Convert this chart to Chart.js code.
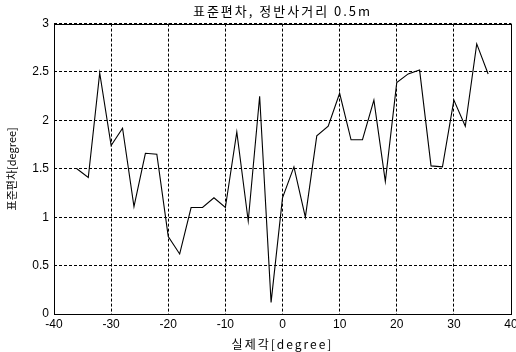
<!DOCTYPE html>
<html>
<head>
<meta charset="utf-8">
<script src="https://cdn.jsdelivr.net/npm/chart.js@4/dist/chart.umd.min.js"></script>
<style>
  html, body { margin: 0; padding: 0; background: #fff; }
  #wrap { width: 516px; height: 352px; }
</style>
</head>
<body>
<div id="wrap"><canvas id="stdChart" width="516" height="352"></canvas></div>
<script>
// 실제각 (degree)
const angles = [-36, -34, -32, -30, -28, -26, -24, -22, -20, -18, -16, -14, -12, -10, -8, -6, -4, -2,
                0, 2, 4, 6, 8, 10, 12, 14, 16, 18, 20, 22, 24, 26, 28, 30, 32, 34, 36];
// 표준편차 (degree)
const stdDev = [1.50, 1.41, 2.49, 1.74, 1.92, 1.11, 1.66, 1.65, 0.80, 0.62, 1.10, 1.10, 1.20, 1.10, 1.88, 0.96, 2.25, 0.12,
                1.20, 1.52, 1.00, 1.84, 1.94, 2.28, 1.80, 1.80, 2.21, 1.37, 2.39, 2.48, 2.52, 1.53, 1.52, 2.21, 1.94, 2.79, 2.48];

const titleText = '표준편차, 정반사거리 0.5m';
const xTitle = '실제각[degree]';
const yTitle = '표준편차[degree]';

const fontFamily = '"Liberation Sans", Arial, "Noto Sans CJK KR", sans-serif';
const krFont = '"Noto Sans CJK KR", "Liberation Sans", sans-serif';

// 제목/축 제목의 자간을 넓힘 (원본 스캔처럼)
function spaced(obj, method, spacing) {
    if (!obj || obj['_spaced_' + method]) return;
    const orig = obj[method];
    obj[method] = function () {
        const c = this.ctx;
        const prev = c.letterSpacing;
        c.letterSpacing = spacing;
        const r = orig.apply(this, arguments);
        c.letterSpacing = prev || '0px';
        return r;
    };
    obj['_spaced_' + method] = true;
}

// 차트 영역 테두리
const frameBox = {
    id: 'frameBox',
    beforeDraw(chart) {
        spaced(chart.titleBlock, 'draw', '2px');
        spaced(chart.scales.x, 'drawTitle', '2px');
    },
    afterDraw(chart) {
        const a = chart.chartArea;
        const c = chart.ctx;
        c.save();
        c.strokeStyle = '#000';
        c.lineWidth = 1;
        c.strokeRect(Math.round(a.left) + 0.5, Math.round(a.top) + 0.5,
                     Math.round(a.right - a.left), Math.round(a.bottom - a.top));
        c.restore();
    }
};

const ctx = document.getElementById('stdChart').getContext('2d');
const chart = new Chart(ctx, {
    type: 'scatter',
    data: {
        datasets: [{
            data: angles.map((a, i) => ({ x: a, y: stdDev[i] })),
            showLine: true,
            borderColor: '#000',
            borderWidth: 1.1,
            pointRadius: 0,
            tension: 0,
            fill: false
        }]
    },
    options: {
        responsive: false,
        animation: false,
        layout: { padding: { left: 0, right: 5, top: 0, bottom: 0 } },
        plugins: {
            legend: { display: false },
            tooltip: { enabled: false },
            title: {
                display: true,
                fullSize: false,
                text: titleText,
                color: '#000',
                font: { family: krFont, size: 13, weight: 'normal' },
                padding: { top: 3, bottom: 5 }
            }
        },
        scales: {
            x: {
                type: 'linear',
                min: -40,
                max: 40,
                ticks: {
                    stepSize: 10,
                    color: '#000',
                    padding: 3,
                    maxRotation: 0,
                    font: { family: fontFamily, size: 12 }
                },
                grid: {
                    color: '#000',
                    lineWidth: 1,
                    drawTicks: false
                },
                border: { display: false, dash: [3, 2] },
                title: {
                    display: true,
                    text: xTitle,
                    color: '#000',
                    font: { family: krFont, size: 12 },
                    padding: { top: 1, bottom: 0 }
                },
                afterFit(scale) {
                    scale.height = 38;
                    scale.paddingLeft = 0;
                    scale.paddingRight = 0;
                }
            },
            y: {
                min: 0,
                max: 3,
                ticks: {
                    stepSize: 0.5,
                    color: '#000',
                    padding: 5,
                    font: { family: fontFamily, size: 12 },
                    callback: v => String(v)
                },
                grid: {
                    color: '#000',
                    lineWidth: 1,
                    drawTicks: false
                },
                border: { display: false, dash: [3, 2] },
                title: {
                    display: true,
                    text: yTitle,
                    color: '#000',
                    font: { family: krFont, size: 11 },
                    padding: { top: 5, bottom: 0 }
                },
                afterFit(scale) {
                    scale.width = 54;
                }
            }
        }
    },
    plugins: [frameBox]
});
chart.draw();
</script>
</body>
</html>
